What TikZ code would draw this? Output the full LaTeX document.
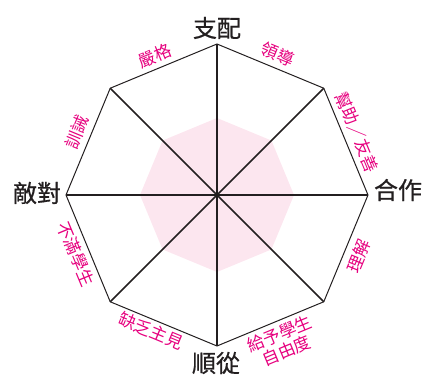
\documentclass[tikz,border=0pt]{standalone}
\usepackage{fontspec}
\usetikzlibrary{calc}
\newfontfamily\cjk{Noto Sans CJK TC}
\newfontfamily\cjkbold[FakeBold=0.6]{Noto Sans CJK TC}
\definecolor{ink}{RGB}{35,31,32}
\definecolor{mag}{RGB}{230,0,126}
\definecolor{softpink}{RGB}{252,230,239}
\tikzset{
  axislabel/.style={inner sep=0pt, text=ink, font=\cjkbold\fontsize{24}{26}\selectfont},
  edgelabel/.style={inner sep=0pt, text=mag, align=center, font=\cjk\fontsize{17}{18}\selectfont},
  spoke/.style={draw=ink, line width=1.6pt},
  rim/.style={draw=ink, line width=1pt, line join=miter},
}
\begin{document}
\begin{tikzpicture}[x=1pt,y=-1pt]
\useasboundingbox (0,0) rectangle (426,379);
\coordinate (O) at (217,195);
\foreach \i in {0,...,7}{
  \coordinate (v\i) at ($(O)+({\i*45-90}:151)$);
  \coordinate (p\i) at ($(O)+({\i*45-90}:77)$);
}
\fill[softpink] (p0) -- (p1) -- (p2) -- (p3) -- (p4) -- (p5) -- (p6) -- (p7) -- cycle;
\foreach \i in {0,...,7}{ \draw[spoke] (O) -- (v\i); }
\draw[rim] (v0) -- (v1) -- (v2) -- (v3) -- (v4) -- (v5) -- (v6) -- (v7) -- cycle;
\node[axislabel] (top) at (217,28) {支配};
\node[axislabel] (right) at (398,190) {合作};
\node[axislabel] (bottom) at (216,363) {順從};
\node[axislabel] (left) at (37,193) {敵對};
\node[edgelabel, rotate=22.5] (strict) at (155,56) {嚴格};
\node[edgelabel, rotate=-22.5] (lead) at (278,54) {領導};
\node[edgelabel, rotate=-67.5] (help) at (357,132) {幫助／友善};
\node[edgelabel, rotate=67.5] (under) at (359,256) {理解};
\node[edgelabel, rotate=22.5] (free) at (283,342) {給予學生\\自由度};
\node[edgelabel, rotate=-22.5] (unsure) at (151,331) {缺乏主見};
\node[edgelabel, rotate=-67.5] (dissat) at (76,254) {不滿學生};
\node[edgelabel, rotate=67.5] (admon) at (77,132) {訓誡};
\end{tikzpicture}
\end{document}
